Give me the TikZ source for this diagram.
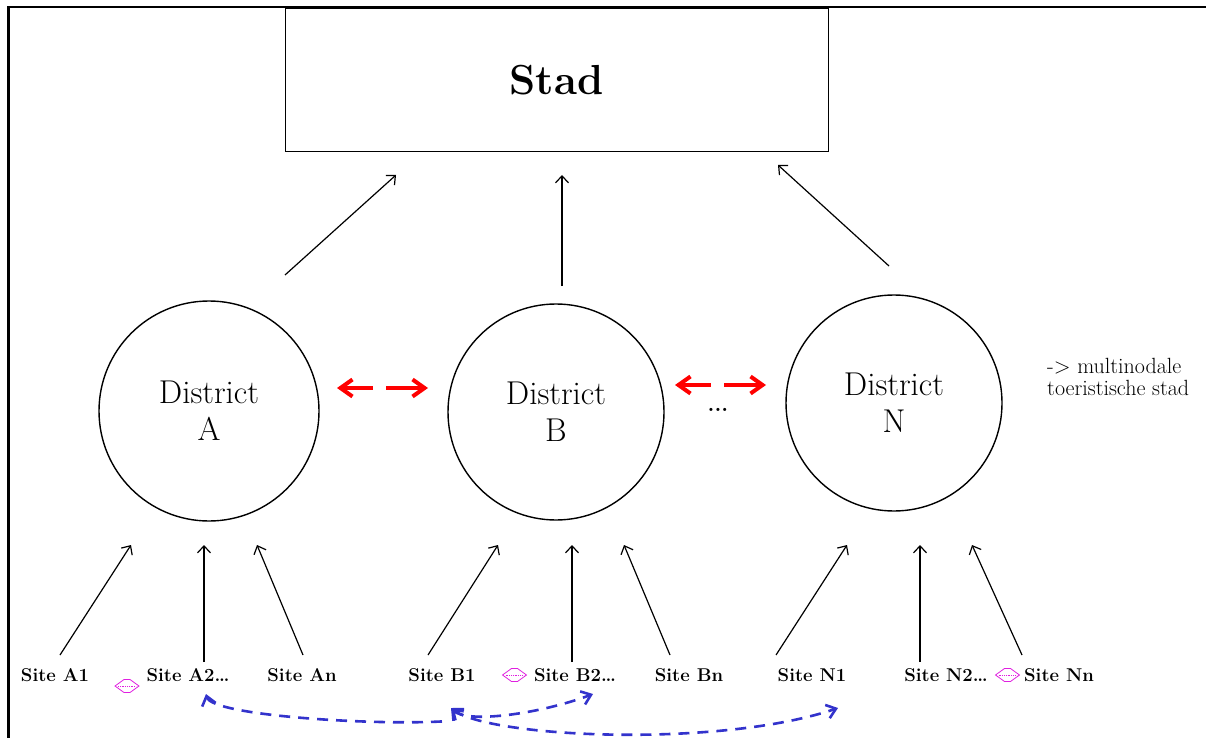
\documentclass[tikz,border=0pt]{standalone}
\usepackage{fontspec}
\usetikzlibrary{arrows.meta}
\definecolor{linkblue}{RGB}{51,51,204}
\definecolor{linkpink}{RGB}{224,32,224}
\definecolor{linkred}{RGB}{255,0,0}
\tikzset{
  district/.style={circle, draw, line width=1.4pt, inner sep=0pt,
    align=center, font=\fontsize{33}{37}\selectfont},
  site/.style={anchor=base, inner sep=0pt, font=\fontsize{18.5}{20}\selectfont\bfseries},
  uparrow/.style={line width=1.2pt, -{Straight Barb[length=7pt,width=13pt]}},
  peer/.style={linkred, line width=4pt, dash pattern=on 31pt off 13pt on 80pt,
    {Straight Barb[length=12pt,width=17pt]}-{Straight Barb[length=12pt,width=17pt]}},
  crosslink/.style={linkblue, line width=2.6pt, dash pattern=on 11pt off 8pt},
  crosstip/.tip={Straight Barb[length=9pt,width=14pt]},
  pinkline/.style={linkpink, line width=0.8pt},
  twoway/.pic={
    \draw[pinkline] (-12,0) -- (-3,-6.5) -- (3,-6.5) -- (12,0) -- (3,6.5) -- (-3,6.5) -- cycle;
    \draw[pinkline, densely dotted] (-9,0) -- (9,0);
  }
}
\begin{document}
\begin{tikzpicture}[x=1pt,y=-1pt]
  \useasboundingbox (0,0) rectangle (1206,738);

  % frame edges
  \draw[line width=2.2pt] (8.5,738) -- (8.5,7) -- (1206,7);

  % city box
  \node[draw, line width=1pt, minimum width=543pt, minimum height=143pt,
        font=\fontsize{42}{50}\selectfont\bfseries] (stad) at (556.5,80.5) {Stad};

  % districts
  \node[district, minimum size=220pt] (dA) at (209,411) {District\\A};
  \node[district, minimum size=216pt] (dB) at (556,412) {District\\B};
  \node[district, minimum size=216pt] (dN) at (894,403) {District\\N};
  \node[font=\fontsize{22}{22}\selectfont\bfseries, inner sep=0pt] (dots) at (718,410) {...};

  \node[anchor=base west, align=left, inner sep=0pt,
        font=\fontsize{22}{22}\selectfont] (note) at (1047,395)
        {-> multinodale\\toeristische stad};

  % districts feeding the city
  \coordinate (aUp0) at (285,275); \coordinate (aUp1) at (396,175);
  \coordinate (bUp0) at (562,286); \coordinate (bUp1) at (562,175);
  \coordinate (nUp0) at (889,266); \coordinate (nUp1) at (778,165);
  \draw[uparrow] (aUp0) -- (aUp1);
  \draw[uparrow] (bUp0) -- (bUp1);
  \draw[uparrow] (nUp0) -- (nUp1);

  % links between districts
  \coordinate (ab0) at (337,388); \coordinate (ab1) at (428,388);
  \coordinate (bn0) at (675,385); \coordinate (bn1) at (766,385);
  \draw[peer] (ab0) -- (ab1);
  \draw[peer] (bn0) -- (bn1);

  % sites
  \node[site] (sA1) at (55,681) {Site A1};
  \node[site] (sA2) at (188,681) {Site A2\textellipsis};
  \node[site] (sAn) at (302,681) {Site An};
  \node[site] (sB1) at (442,681) {Site B1};
  \node[site] (sB2) at (575,681) {Site B2\textellipsis};
  \node[site] (sBn) at (689,681) {Site Bn};
  \node[site] (sN1) at (812,681) {Site N1};
  \node[site] (sN2) at (946,681) {Site N2\textellipsis};
  \node[site] (sNn) at (1059,681) {Site Nn};

  % sites feeding their districts
  \coordinate (a1s) at (60,655);   \coordinate (a1e) at (131,545);
  \coordinate (a2s) at (204,662);  \coordinate (a2e) at (204,545);
  \coordinate (ans) at (303,655);  \coordinate (ane) at (257,545);
  \coordinate (b1s) at (428,655);  \coordinate (b1e) at (498,545);
  \coordinate (b2s) at (572,662);  \coordinate (b2e) at (572,545);
  \coordinate (bns) at (670,655);  \coordinate (bne) at (624,545);
  \coordinate (n1s) at (776,655);  \coordinate (n1e) at (847,545);
  \coordinate (n2s) at (920,662);  \coordinate (n2e) at (920,545);
  \coordinate (nns) at (1022,655); \coordinate (nne) at (972,545);
  \foreach \s/\e in {a1s/a1e, a2s/a2e, ans/ane, b1s/b1e, b2s/b2e, bns/bne,
                     n1s/n1e, n2s/n2e, nns/nne}
    \draw[uparrow] (\s) -- (\e);

  % small two-way links between neighbouring sites
  \pic at (127,686) {twoway};
  \pic at (514.5,675) {twoway};
  \pic at (1007.5,675) {twoway};

  % dashed links across districts
  \coordinate (xA2) at (206,694);
  \coordinate (xA2end) at (449,721);
  \coordinate (xB1) at (451,708);
  \coordinate (xB2) at (593,694);
  \coordinate (xN1) at (838,708);
  \draw[crosslink, crosstip-] (xA2) .. controls (212,716) and (380,726) .. (xA2end);
  \draw[crosslink, crosstip-crosstip] (xB1) .. controls (466,724) and (540,714) .. (xB2);
  \draw[crosslink, crosstip-crosstip] (xB1) .. controls (490,738) and (720,748) .. (xN1);
\end{tikzpicture}
\end{document}
